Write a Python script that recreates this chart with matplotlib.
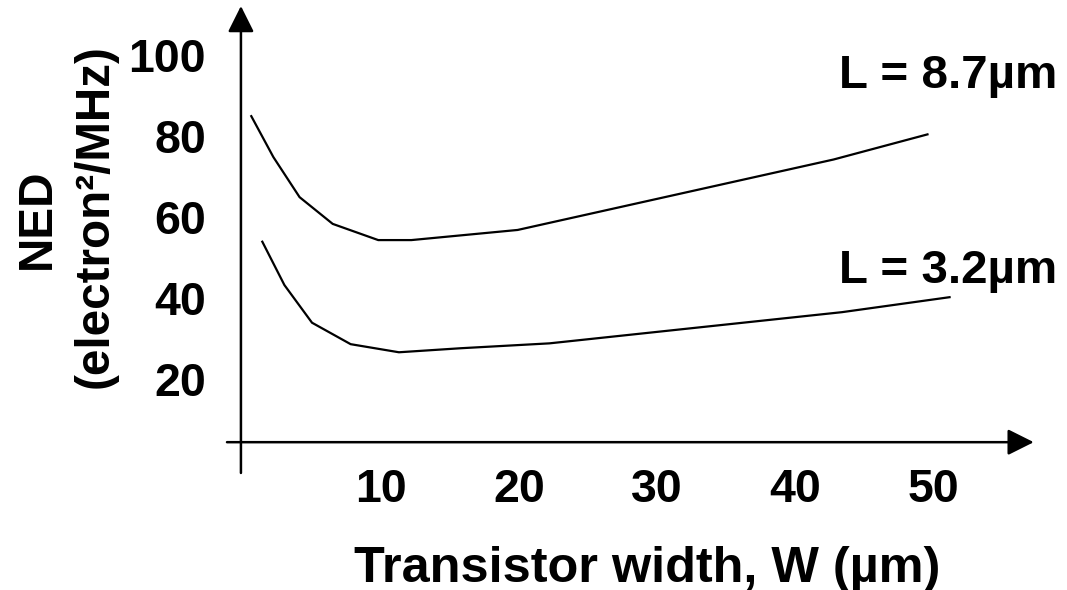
import matplotlib
matplotlib.use("Agg")
import matplotlib.pyplot as plt
from matplotlib.patches import FancyArrowPatch

# ---- data ----
w_l87 = [0.6, 2.2, 4.1, 6.5, 9.8, 12.2, 19.9, 42.8, 49.6]
ned_l87 = [84.9, 74.8, 64.9, 58.3, 54.3, 54.3, 56.8, 74.2, 80.4]
w_l32 = [1.4, 3.0, 5.0, 7.8, 11.3, 15.8, 22.2, 43.4, 51.2]
ned_l32 = [53.9, 43.2, 33.9, 28.6, 26.6, 27.6, 28.8, 36.5, 40.2]
x_ticks = [10, 20, 30, 40, 50]
y_ticks = [20, 40, 60, 80, 100]
label_l87 = "L = 8.7µm"
label_l32 = "L = 3.2µm"
x_label = "Transistor width, W (µm)"
y_label1 = "NED"
y_label2 = "(electron²/MHz)"

plt.rcParams['font.family'] = ['Liberation Sans', 'DejaVu Sans']
plt.rcParams['font.weight'] = 'bold'
FS_TICK = 33.5
FS_CURVE = 34.2
FS_XLAB = 36.3
FS_YLAB = 34.3

W, H = 1067, 590
fig = plt.figure(figsize=(W / 100, H / 100), dpi=100)

# pixel geometry of axes
x0_pix, x_scale = 243.0, 13.8   # pixel of x=0, px per unit
y0_pix, y_scale = 460.0, 4.05   # pixel of y=0, px per unit
xmin, xmax = -1.16, 57.3
ymin, ymax = -3.2, 112.1
x_axis_at = 4.4
y_axis_at = -0.15

left = (x0_pix + xmin * x_scale) / W
right = (x0_pix + xmax * x_scale) / W
top = 1 - (y0_pix - ymax * y_scale) / H
bottom = 1 - (y0_pix - ymin * y_scale) / H
ax = fig.add_axes([left, bottom, right - left, top - bottom])
ax.set_xlim(xmin, xmax)
ax.set_ylim(ymin, ymax)
ax.patch.set_visible(False)

for s in ['top', 'right', 'bottom', 'left']:
    ax.spines[s].set_visible(False)
ax.spines['bottom'].set_position(('data', x_axis_at))
ax.spines['left'].set_position(('data', y_axis_at))

ax.set_xticks(x_ticks)
ax.set_xticklabels([str(t) for t in x_ticks], fontsize=FS_TICK, fontweight='bold')
ax.set_yticks(y_ticks)
ax.set_yticklabels([str(t) for t in y_ticks], fontsize=FS_TICK, fontweight='bold')
ax.tick_params(axis='x', length=0, pad=18.3)
ax.tick_params(axis='y', length=0, pad=25.3)

# axis arrows
lw_axis = 1.8
ax.add_patch(FancyArrowPatch((xmin, x_axis_at), (xmax, x_axis_at),
                             arrowstyle='-|>,head_length=16,head_width=8',
                             mutation_scale=1, lw=lw_axis, color='black',
                             shrinkA=0, shrinkB=0, clip_on=False))
ax.add_patch(FancyArrowPatch((y_axis_at, ymin), (y_axis_at, ymax),
                             arrowstyle='-|>,head_length=16,head_width=8',
                             mutation_scale=1, lw=lw_axis, color='black',
                             shrinkA=0, shrinkB=0, clip_on=False))

# curves
ax.plot(w_l87, ned_l87, color='black', lw=1.6, solid_joinstyle='miter')
ax.plot(w_l32, ned_l32, color='black', lw=1.6, solid_joinstyle='miter')

ax.text(43.2, 91.85, label_l87, fontsize=FS_CURVE, fontweight='bold', ha='left', va='baseline')
ax.text(43.2, 43.7, label_l32, fontsize=FS_CURVE, fontweight='bold', ha='left', va='baseline')

# axis labels
fig.text(647.5 / W, 1 - 546 / H, x_label, fontsize=FS_XLAB, fontweight='bold',
         ha='center', va='top')
fig.text(37 / W, 1 - 219 / H, y_label1, fontsize=FS_YLAB, fontweight='bold', rotation=90,
         ha='center', va='center')
fig.text(95 / W, 1 - 216 / H, y_label2, fontsize=FS_YLAB, fontweight='bold', rotation=90,
         ha='center', va='center')

fig.savefig("out.png", dpi=100)
